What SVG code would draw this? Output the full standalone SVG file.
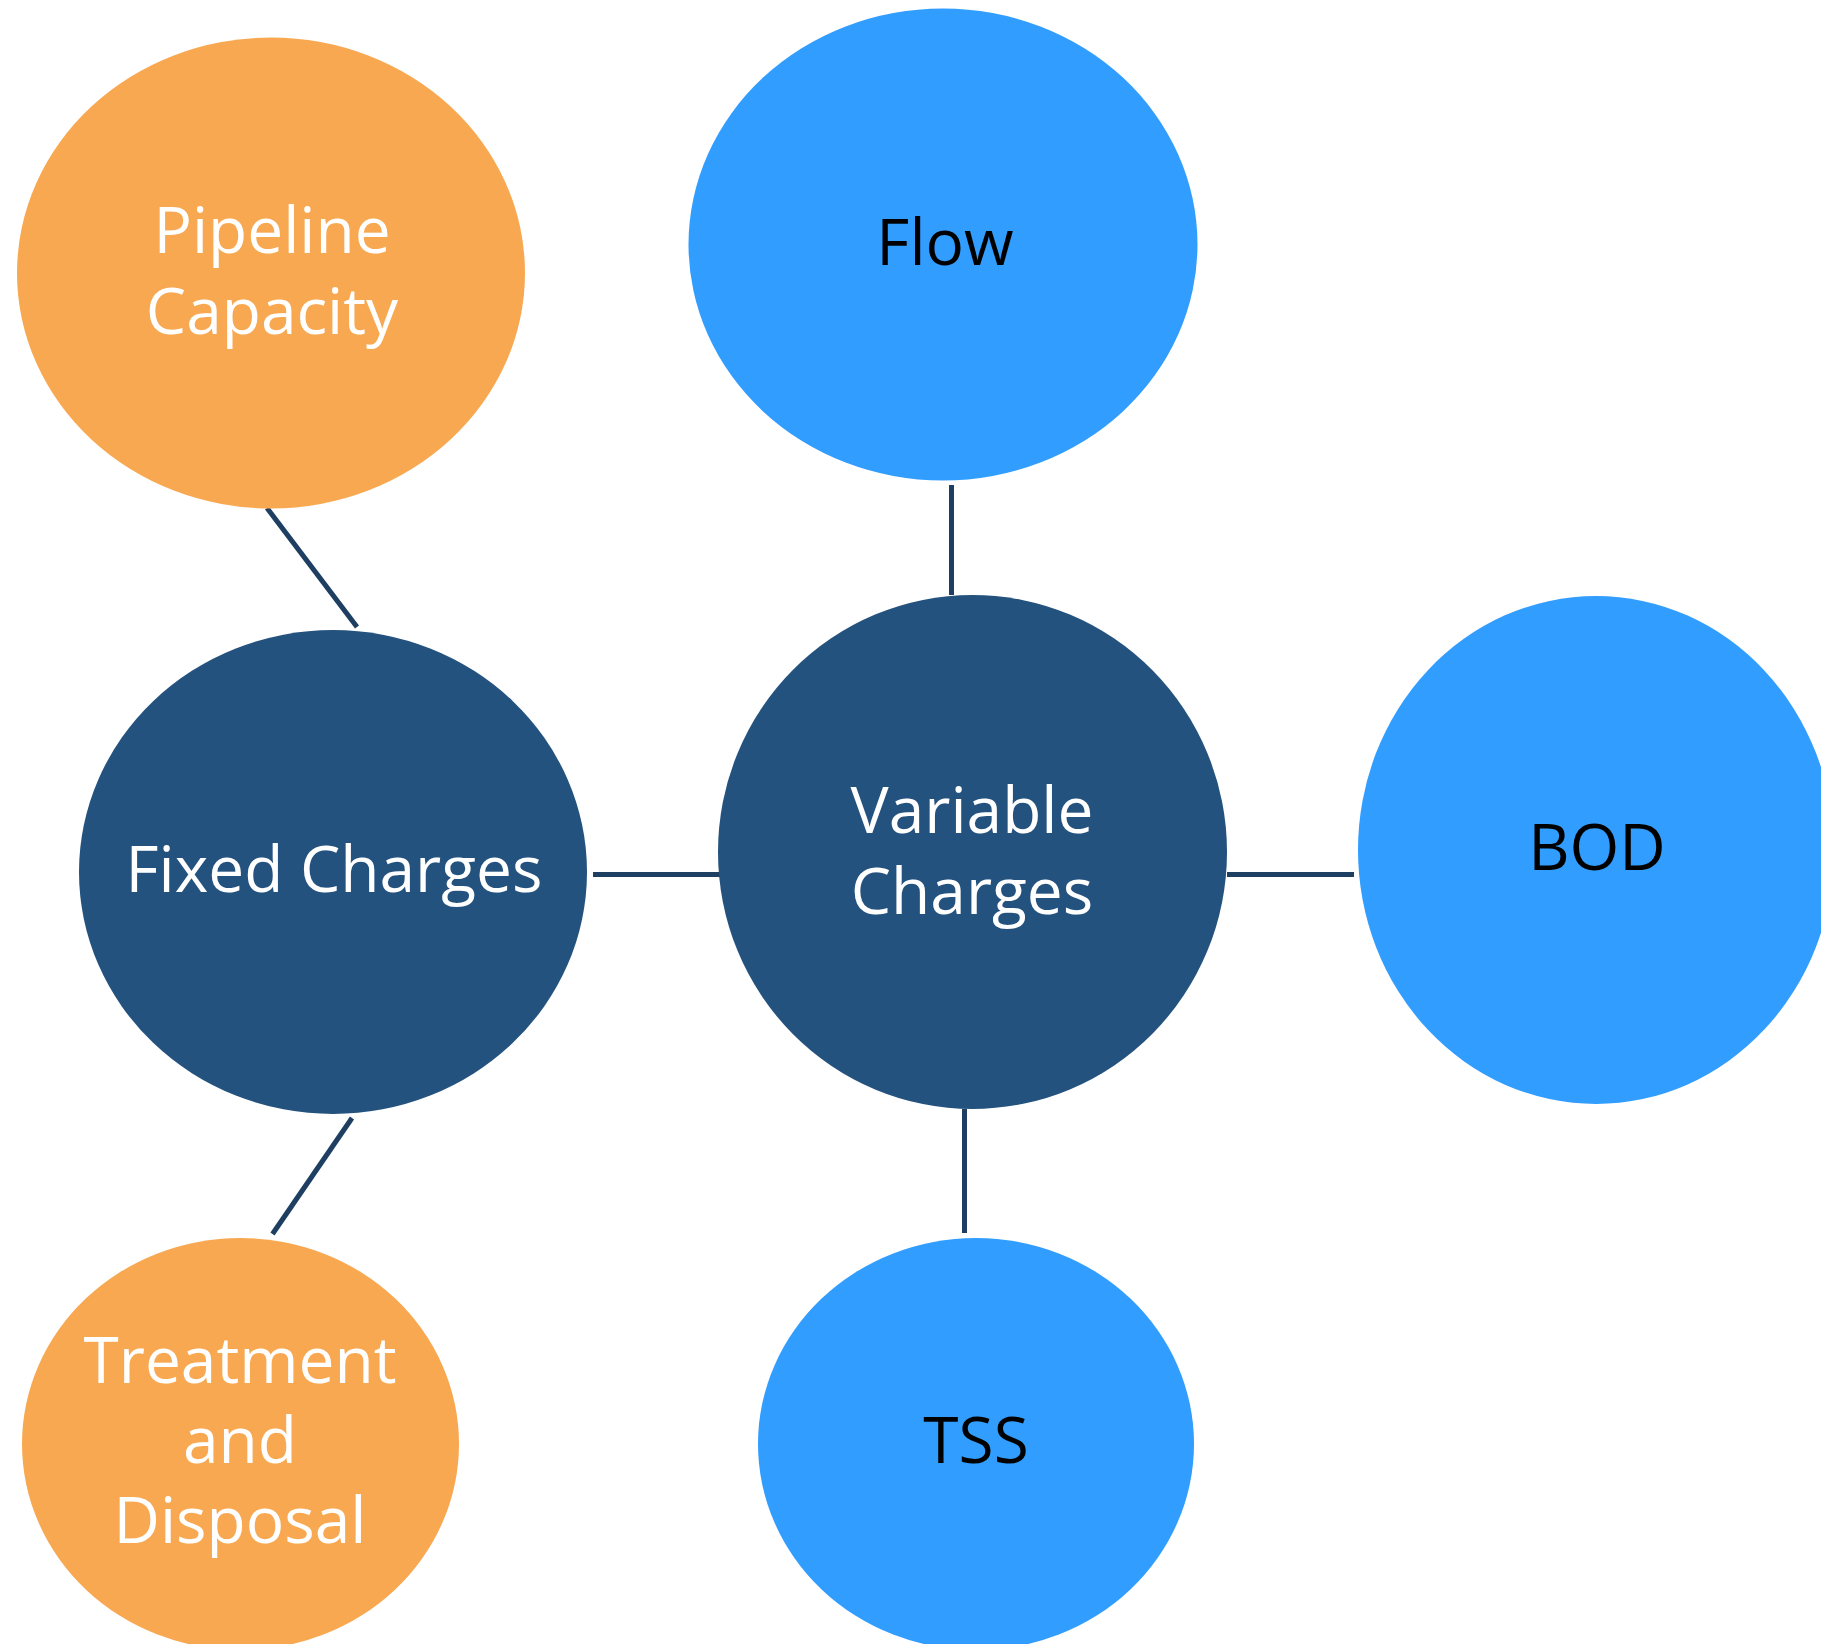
<svg xmlns="http://www.w3.org/2000/svg" width="1821" height="1644" viewBox="0 0 1821 1644">
<style>
.orange{fill:#F8A851}
.blue{fill:#319DFF}
.navy{fill:#24527E}
text{font-family:"Open Sans","Noto Sans","Liberation Sans",sans-serif;font-size:64px;text-anchor:middle}
.w{fill:#FFFFFF}
.k{fill:#000000}
.conn line{stroke:#1E3E62;stroke-width:5;fill:none}
</style>
<rect width="1821" height="1644" fill="#FFFFFF"/>
<g id="connectors" class="conn">
<line x1="267" y1="508" x2="357" y2="627"/>
<line x1="951.5" y1="485" x2="951.5" y2="595"/>
<line x1="593" y1="874.5" x2="721" y2="874.5"/>
<line x1="1227" y1="874.5" x2="1354" y2="874.5"/>
<line x1="352" y1="1118" x2="272.5" y2="1234"/>
<line x1="964.5" y1="1109" x2="964.5" y2="1233"/>
</g>
<g id="pipeline">
<ellipse class="orange" cx="271" cy="273" rx="254" ry="235.5"/>
<text class="w" x="272" y="253">Pipeline</text>
<text class="w" x="272" y="334">Capacity</text>
</g>
<g id="flow">
<ellipse class="blue" cx="943" cy="244.5" rx="254.5" ry="236"/>
<text class="k" x="945" y="265">Flow</text>
</g>
<g id="fixed">
<ellipse class="navy" cx="333" cy="872" rx="254" ry="242"/>
<text class="w" x="334" y="892">Fixed Charges</text>
</g>
<g id="variable">
<ellipse class="navy" cx="972.5" cy="852" rx="254.5" ry="257"/>
<text class="w" x="972" y="833">Variable</text>
<text class="w" x="972" y="913.5">Charges</text>
</g>
<g id="bod">
<ellipse class="blue" cx="1596" cy="850" rx="238" ry="254"/>
<text class="k" x="1597" y="870">BOD</text>
</g>
<g id="treatment">
<ellipse class="orange" cx="240.5" cy="1444" rx="218.5" ry="206"/>
<text class="w" x="240" y="1383">Treatment</text>
<text class="w" x="240" y="1463">and</text>
<text class="w" x="240" y="1543">Disposal</text>
</g>
<g id="tss">
<ellipse class="blue" cx="976" cy="1444" rx="218" ry="206"/>
<text class="k" x="976" y="1463">TSS</text>
</g>
</svg>
